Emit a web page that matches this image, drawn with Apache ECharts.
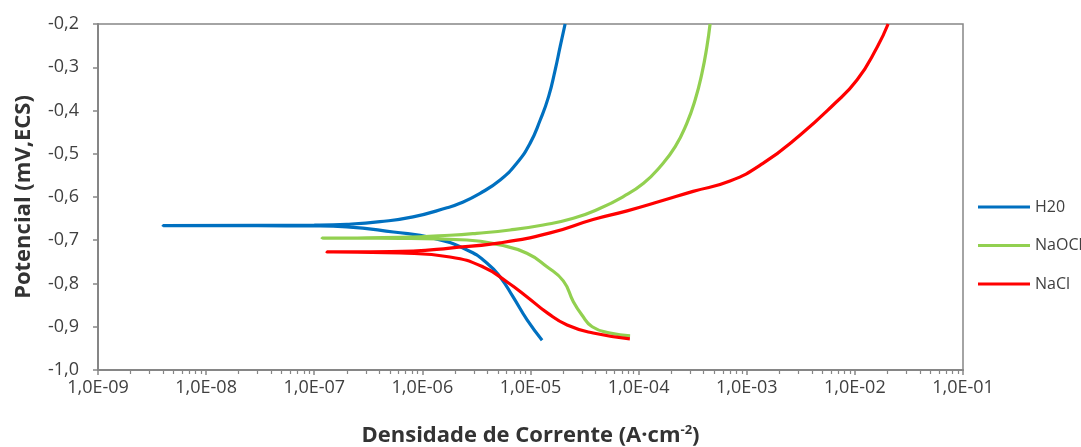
<!DOCTYPE html>
<html><head><meta charset="utf-8">
<script src="https://cdn.jsdelivr.net/npm/echarts@6/dist/echarts.min.js"></script>
<style>html,body{margin:0;padding:0;background:#fff}#c{width:1081px;height:447px}</style>
</head><body><div id="c"></div>
<script>
// Series data: current density (A·cm-2) and potential, in scan order (cathodic end -> tip -> anodic end)
const h2oI = [1.28e-5, 9.3e-6, 6.9e-6, 5.24e-6, 3.97e-6, 2.59e-6, 1.26e-6, 5.4e-7, 2.0e-7, 1e-7, 3e-8, 4e-9, 3e-8, 1e-7, 2.0e-7, 4.06e-7, 8.2e-7, 1.69e-6, 2.23e-6, 3.42e-6, 5.24e-6, 7.46e-6, 9.9e-6, 1.23e-5, 1.47e-5, 1.69e-5, 1.88e-5, 2.09e-5];
const h2oE = [-0.931, -0.884, -0.831, -0.785, -0.753, -0.7225, -0.695, -0.681, -0.669, -0.667, -0.6665, -0.666, -0.6655, -0.665, -0.663, -0.657, -0.646, -0.625, -0.6146, -0.5915, -0.5607, -0.522, -0.476, -0.422, -0.368, -0.3064, -0.2525, -0.2];

const naoclI = [8.34e-5, 5.45e-5, 3.72e-5, 2.99e-5, 2.49e-5, 2.01e-5, 1.42e-5, 9.25e-6, 5.24e-6, 2.58e-6, 6.2e-7, 2.5e-7, 1.18e-7, 2.5e-7, 6.2e-7, 1.8e-6, 3.18e-6, 6.47e-6, 1.31e-5, 2.49e-5, 4.41e-5, 7.22e-5, 1.11e-4, 1.58e-4, 2.18e-4, 2.79e-4, 3.33e-4, 3.85e-4, 4.28e-4, 4.58e-4];
const naoclE = [-0.921, -0.9145, -0.900, -0.8728, -0.842, -0.794, -0.7612, -0.730, -0.711, -0.6994, -0.6955, -0.6952, -0.695, -0.6948, -0.6935, -0.6885, -0.684, -0.6763, -0.6647, -0.6493, -0.626, -0.599, -0.5683, -0.530, -0.4837, -0.4296, -0.3757, -0.314, -0.2525, -0.2];

const naclI = [8.3e-5, 3.8e-5, 2.18e-5, 1.43e-5, 9.3e-6, 6.08e-6, 3.65e-6, 1.8e-6, 6.2e-7, 2.5e-7, 1.31e-7, 2.5e-7, 8.2e-7, 1.8e-6, 5.24e-6, 1.52e-5, 3.79e-5, 7.83e-5, 1.58e-4, 3.19e-4, 7.0e-4, 1.4e-3, 3.12e-3, 6.3e-3, 1.05e-2, 1.61e-2, 2.03e-2];
const naclE = [-0.928, -0.9145, -0.896, -0.868, -0.831, -0.7965, -0.7618, -0.7387, -0.7295, -0.7275, -0.727, -0.7268, -0.725, -0.718, -0.706, -0.683, -0.652, -0.632, -0.610, -0.587, -0.563, -0.523, -0.4566, -0.3873, -0.329, -0.253, -0.2];

const seriesNames = ['H20', 'NaOCl', 'NaCl'];
const seriesColors = ['#0070C0', '#92D050', '#FF0000'];
const xTitle = 'Densidade de Corrente (A·cm{sup|-2})';
const yTitle = 'Potencial (mV,ECS)';

// minor tick positions of the log axis (log10 of 2..9 × each decade)
const minorTickPos = [];
for (let d = -9; d < -1; d++) for (let k = 2; k <= 9; k++) minorTickPos.push(d + Math.log10(k));

const zip = (a, b) => a.map((v, i) => [v, b[i]]);
const allData = [zip(h2oI, h2oE), zip(naoclI, naoclE), zip(naclI, naclE)];

const FONT = 'Open Sans';
const chart = echarts.init(document.getElementById('c'), null, {renderer: 'canvas'});
chart.setOption({
  animation: false,
  backgroundColor: '#fff',
  grid: {left: 98, right: 118, top: 24, bottom: 77, show: true, borderColor: '#868686', borderWidth: 1.5,
    containLabel: false, outerBoundsMode: 'none'},
  legend: {
    orient: 'vertical', left: 973, top: 194, itemWidth: 52, itemHeight: 3, itemGap: 22.5,
    icon: 'rect', data: seriesNames,
    textStyle: {fontFamily: FONT, fontSize: 16, color: '#404040'}
  },
  xAxis: [{
    type: 'log', logBase: 10, min: 1e-9, max: 1e-1,
    name: xTitle, nameLocation: 'middle', nameGap: 54,
    nameTextStyle: {fontFamily: FONT, fontSize: 22, fontWeight: 'bold', color: '#333',
      rich: {sup: {fontFamily: FONT, fontSize: 13, fontWeight: 'bold', color: '#333', verticalAlign: 'top', padding: [0, 0, 10, 0]}}},
    axisLine: {show: true, lineStyle: {color: '#868686', width: 2}},
    axisTick: {show: true, length: 5, lineStyle: {color: '#868686', width: 1.5}},
    splitLine: {show: false},
    minorTick: {show: false},
    axisLabel: {fontFamily: FONT, fontSize: 18, color: '#404040', margin: 9,
      formatter: v => { const e = Math.round(Math.log10(v)); const s = Math.abs(e) < 10 ? '0' + Math.abs(e) : '' + Math.abs(e); return '1,0E' + (e < 0 ? '-' : '+') + s; }}
  }, {
    type: 'value', min: -9, max: -1, position: 'bottom', show: true,
    axisLine: {show: false},
    axisLabel: {show: false},
    splitLine: {show: false},
    axisTick: {show: true, length: 4, customValues: minorTickPos, lineStyle: {color: '#868686', width: 1.2}}
  }],
  yAxis: {
    type: 'value', min: -1, max: -0.2, interval: 0.1,
    name: yTitle, nameLocation: 'middle', nameGap: 63, nameRotate: 90,
    nameTextStyle: {fontFamily: FONT, fontSize: 22, fontWeight: 'bold', color: '#333'},
    axisLine: {show: true, lineStyle: {color: '#868686', width: 2}},
    axisTick: {show: true, length: 5, lineStyle: {color: '#868686', width: 1.5}},
    splitLine: {show: false},
    axisLabel: {fontFamily: FONT, fontSize: 18, color: '#404040', margin: 19,
      formatter: v => v.toFixed(1).replace('.', ',')}
  },
  series: seriesNames.map((n, i) => ({
    name: n, type: 'line', xAxisIndex: 0, data: allData[i], symbol: 'none', smooth: 0.5,
    lineStyle: {color: seriesColors[i], width: 3.2}, itemStyle: {color: seriesColors[i]}
  }))
});
</script></body></html>
